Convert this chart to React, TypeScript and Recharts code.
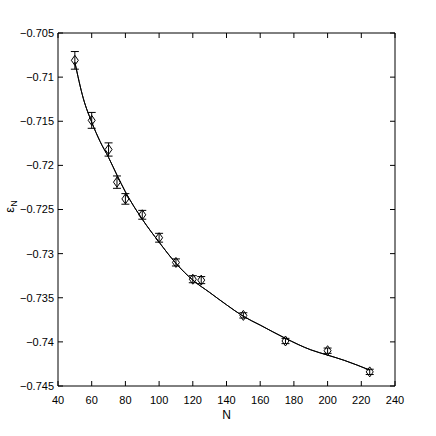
import { ComposedChart, Line, Scatter, ErrorBar, XAxis, YAxis } from "recharts";

// fitted curve
const fitN = [50, 55, 60, 65, 70, 75, 80, 90, 100, 110, 120, 130, 140, 150, 160, 175, 190, 200, 210, 225];
const fitE = [
  -0.7083, -0.7124, -0.7151, -0.7173, -0.7191, -0.7211, -0.723, -0.7261, -0.7287, -0.7311,
  -0.733, -0.7344, -0.7358, -0.7371, -0.7381, -0.7396, -0.7409, -0.7415, -0.7421, -0.7432,
];

// measured points with error bars
const pointN = [50, 60, 70, 75, 80, 90, 100, 110, 120, 125, 150, 175, 200, 225];
const pointE = [
  -0.7081, -0.7149, -0.7182, -0.7219, -0.7238, -0.7256, -0.7282, -0.731, -0.7329, -0.733,
  -0.737, -0.7399, -0.741, -0.7434,
];
const pointErr = [
  0.001, 0.0009, 0.00075, 0.0007, 0.0006, 0.0005, 0.0005, 0.0004, 0.0004, 0.0004, 0.0003, 0.0003,
  0.0003, 0.0003,
];

const xTicks = [40, 60, 80, 100, 120, 140, 160, 180, 200, 220, 240];
const yTicks = [-0.745, -0.74, -0.735, -0.73, -0.725, -0.72, -0.715, -0.71, -0.705];

const fitData = fitN.map((n, i) => ({ n, fit: fitE[i] }));
const pointData = pointN.map((n, i) => ({ n, e: pointE[i], err: pointErr[i] }));

const font = "'Liberation Sans Narrow', 'Liberation Sans', Arial, sans-serif";
const TICK = 5;
const minus = (v: number) => String(v).replace("-", "\u2212");

// ticks point inwards, MATLAB style; labels outside
const BottomTick = (props: any) => {
  const { x, y, payload } = props;
  return (
    <g>
      <line x1={x} y1={y - 10} x2={x} y2={y - 10 - TICK} stroke="#000" />
      <text x={x} y={y} dy="0.71em" textAnchor="middle" fontSize={11} fontFamily={font} fill="#000">
        {payload.value}
      </text>
    </g>
  );
};

const LeftTick = (props: any) => {
  const { x, y, payload } = props;
  return (
    <g>
      <line x1={x + 4} y1={y} x2={x + 4 + TICK} y2={y} stroke="#000" />
      <text x={x} y={y} dy="0.355em" textAnchor="end" fontSize={11} fontFamily={font} fill="#000">
        {minus(payload.value)}
      </text>
    </g>
  );
};

const TopTick = (props: any) => {
  const { x, y } = props;
  return <line x1={x} y1={y} x2={x} y2={y + TICK} stroke="#000" />;
};

const RightTick = (props: any) => {
  const { x, y } = props;
  return <line x1={x} y1={y} x2={x - TICK} y2={y} stroke="#000" />;
};

const Diamond = (props: any) => {
  const { cx, cy } = props;
  return (
    <polygon
      points={`${cx},${cy - 5} ${cx + 3.5},${cy} ${cx},${cy + 5} ${cx - 3.5},${cy}`}
      fill="none"
      stroke="#000"
      strokeWidth={1}
    />
  );
};

const XLabel = (props: any) => {
  const vb = props.viewBox;
  return (
    <text x={vb.x + vb.width / 2} y={vb.y + 33} textAnchor="middle" fontSize={12} fontFamily={font} fill="#000">
      N
    </text>
  );
};

const YLabel = (props: any) => {
  const vb = props.viewBox;
  const x = 14;
  const y = vb.y + vb.height / 2 - 3;
  return (
    <text x={x} y={y} transform={`rotate(-90, ${x}, ${y})`} textAnchor="middle" fontSize={13} fontFamily={font} fill="#000">
      ε<tspan fontSize={9} dy={3}>N</tspan>
    </text>
  );
};

const App = () => {
  return (
    <div style={{ position: "absolute", left: 0, top: 0 }}>
      <ComposedChart width={436} height={436} margin={{ top: 32, right: 40, left: 8, bottom: 20 }}>
        <XAxis
          dataKey="n"
          type="number"
          domain={[40, 240]}
          ticks={xTicks}
          allowDataOverflow
          height={30}
          tickSize={0}
          tickMargin={10}
          tickLine={false}
          stroke="#000"
          tick={<BottomTick />}
          label={<XLabel />}
        />
        <XAxis
          xAxisId="top"
          dataKey="n"
          orientation="top"
          type="number"
          domain={[40, 240]}
          ticks={xTicks}
          allowDataOverflow
          height={1}
          tickSize={0}
          tickMargin={0}
          tickLine={false}
          stroke="#000"
          tick={<TopTick />}
        />
        <YAxis
          type="number"
          domain={[-0.745, -0.705]}
          ticks={yTicks}
          allowDataOverflow
          width={50}
          tickSize={0}
          tickMargin={4}
          tickLine={false}
          stroke="#000"
          tick={<LeftTick />}
          label={<YLabel />}
        />
        <YAxis
          yAxisId="right"
          orientation="right"
          type="number"
          domain={[-0.745, -0.705]}
          ticks={yTicks}
          allowDataOverflow
          width={1}
          tickSize={0}
          tickMargin={0}
          tickLine={false}
          stroke="#000"
          tick={<RightTick />}
        />
        <Line
          data={fitData}
          dataKey="fit"
          type="monotone"
          stroke="#000"
          strokeWidth={1}
          dot={false}
          activeDot={false}
          isAnimationActive={false}
        />
        <Line
          data={fitData}
          dataKey="fit"
          xAxisId="top"
          yAxisId="right"
          type="monotone"
          stroke="#000"
          strokeWidth={1}
          dot={false}
          activeDot={false}
          isAnimationActive={false}
        />
        <Scatter data={pointData} dataKey="e" shape={<Diamond />} isAnimationActive={false}>
          <ErrorBar dataKey="err" direction="y" width={4} stroke="#000" strokeWidth={1} />
        </Scatter>
      </ComposedChart>
    </div>
  );
};

export default App;
